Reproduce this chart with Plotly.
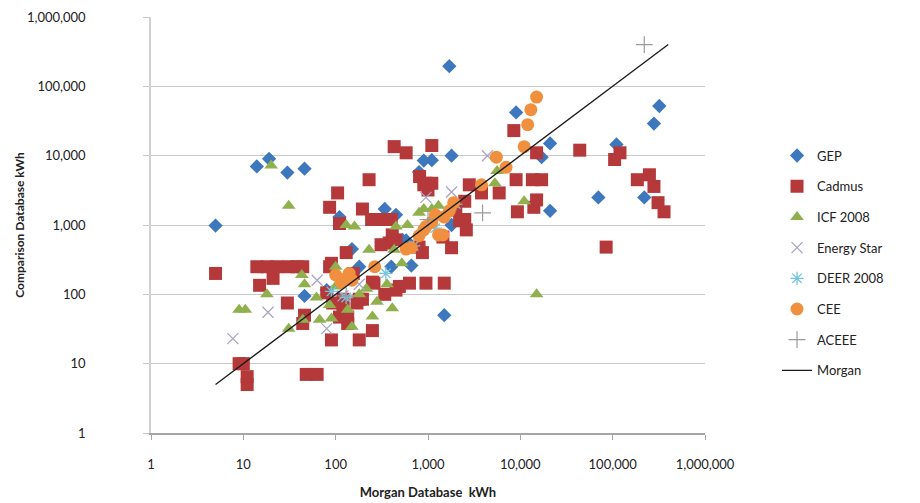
import plotly.graph_objects as go

# ---------------- data ----------------
gep_x = [5, 14, 19, 30, 46, 1700, 9000, 320000, 280000, 110000, 21000, 900, 1100, 1800,
         17000, 70000, 220000, 21000, 110, 340, 450, 800, 1500, 46, 150, 80, 580, 180,
         660, 400, 530, 1800]
gep_y = [980, 7000, 9000, 5700, 6500, 195000, 42000, 52000, 29000, 14500, 15000, 8500, 8600,
         10000, 9500, 2500, 2500, 1600, 1300, 1700, 1400, 5800, 50, 95, 450, 115, 600, 250,
         260, 250, 610, 1000]

cad_x = [5, 9, 10, 11, 11, 14, 18, 23, 21, 15, 30, 31, 38, 44, 46, 44, 48, 63, 86, 90, 90,
         93, 80, 120, 120, 130, 135, 135, 110, 180, 170, 195, 180, 250, 250, 155, 260, 340,
         450, 490, 380, 310, 450, 800, 630, 950, 1500, 1800, 2200, 870, 430, 580, 230, 105,
         86, 195, 245, 320, 400, 110, 410, 810, 900, 1100, 950, 1100, 1000, 8500, 2800, 3800,
         5900, 9000, 13500, 17000, 15000, 15000, 14000, 9300, 2500, 2500, 2000, 2600, 1450,
         44000, 105000, 120000, 185000, 250000, 280000, 310000, 360000, 85000]
cad_y = [200, 10, 10, 6.5, 5, 250, 250, 250, 170, 135, 75, 250, 250, 250, 50, 38, 7, 7, 250,
         280, 22, 75, 105, 85, 70, 400, 47, 38, 47, 85, 75, 85, 22, 30, 150, 200, 145, 100,
         115, 130, 550, 520, 610, 480, 145, 145, 145, 470, 1150, 400, 13500, 11000, 4500, 2900,
         1800, 1700, 1200, 1200, 1200, 1050, 720, 5000, 3800, 14000, 4000, 4000, 3200, 23000,
         3800, 2900, 2900, 4500, 4500, 4500, 11000, 2300, 1800, 1550, 2200, 1200, 1650, 850,
         670, 12000, 8800, 11000, 4500, 5300, 3600, 2100, 1550, 480]

icf_x = [9, 10.5, 18, 20, 31, 31, 43, 46, 44, 62, 67, 90, 86, 100, 135, 150, 250, 280, 410,
         215, 360, 230, 430, 520, 130, 160, 450, 600, 800, 900, 1100, 1300, 5600, 5300, 11000,
         15000, 100, 180]
icf_y = [60, 60, 100, 7200, 1900, 32, 190, 140, 43, 90, 43, 45, 70, 250, 60, 34, 48, 78, 63,
         120, 140, 440, 440, 280, 1000, 950, 950, 1000, 1500, 1700, 1700, 1900, 6000, 4000,
         2200, 100, 130, 100]

es_x = [7.7, 18.5, 63, 80, 180, 950, 1800, 4400, 120]
es_y = [23, 55, 160, 32, 140, 2500, 3000, 10000, 95]

deer_x = [90, 130, 350, 700, 1200, 2000]
deer_y = [110, 90, 200, 500, 900, 2000]

cee_x = [100, 115, 130, 150, 140, 265, 580, 660, 900, 950, 1100, 1300, 1450, 1500, 1700,
         1900, 3800, 5500, 7000, 11000, 12000, 13000, 15000, 800, 1200]
cee_y = [190, 150, 170, 160, 200, 250, 450, 470, 850, 950, 1100, 720, 720, 1300, 1600, 2100,
         3800, 9500, 6800, 13500, 28000, 46000, 70000, 700, 1400]

aceee_x = [220000, 3900, 130, 1000]
aceee_y = [400000, 1500, 95, 1200]

morgan_x = [5, 400000]
morgan_y = [5, 400000]

tick_vals = [1, 10, 100, 1000, 10000, 100000, 1000000]
tick_text = ["1", "10", "100", "1,000", "10,000", "100,000", "1,000,000"]

FONT = "Lato, 'Open Sans', sans-serif"

fig = go.Figure()

def add(name, x, y, symbol, color, size, line_w=0, line_color=None):
    fig.add_trace(go.Scatter(
        x=x, y=y, mode="markers", name=name, legendgroup=name,
        marker=dict(symbol=symbol, color=color, size=size,
                    line=dict(width=line_w, color=line_color or color)),
    ))

add("GEP", gep_x, gep_y, "diamond", "#3d77bd", 11)
add("Cadmus", cad_x, cad_y, "square", "#b5393a", 13)
add("ICF 2008", icf_x, icf_y, "triangle-up", "#8fb04d", 12)
add("Energy Star", es_x, es_y, "x-thin-open", "#aaa4c6", 11, 1.3)
add("DEER 2008", deer_x, deer_y, "asterisk-open", "#74c3df", 11, 1.3)
add("CEE", cee_x, cee_y, "circle", "#f0903e", 13)
add("ACEEE", aceee_x, aceee_y, "cross-thin-open", "#9a9a9a", 12, 1.2)

fig.add_trace(go.Scatter(x=morgan_x, y=morgan_y, mode="lines", name="Morgan",
                         legendgroup="Morgan",
                         line=dict(color="#1a1a1a", width=1.3)))

fig.update_layout(
    width=920, height=503,
    margin=dict(l=151, r=215, t=17, b=70, autoexpand=False),
    paper_bgcolor="white", plot_bgcolor="white",
    font=dict(family=FONT, size=13, color="#222222"),
    showlegend=True,
    legend=dict(x=1.13, y=0.703, xanchor="left", yanchor="top",
                font=dict(family=FONT, size=13, color="#222222"),
                tracegroupgap=10.8, bgcolor="rgba(0,0,0,0)"),
)

fig.update_xaxes(
    type="log", range=[0, 6], tickvals=tick_vals, ticktext=tick_text,
    automargin=False,
    showgrid=False, zeroline=False,
    showline=True, linecolor="#a6a6a6", linewidth=1.5,
    ticks="outside", ticklen=5, tickcolor="#a6a6a6", tickwidth=1,
    ticklabelstandoff=14,
    tickfont=dict(family=FONT, size=13, color="#222222"),
    title=dict(text="<b>Morgan Database  kWh</b>", standoff=17,
               font=dict(family=FONT, size=13, color="#222222")),
)

fig.update_yaxes(
    type="log", range=[0, 6], tickvals=tick_vals, ticktext=tick_text,
    automargin=False,
    showgrid=True, gridcolor="#c8c8c8", gridwidth=1, zeroline=False,
    showline=True, linecolor="#d0d0d0", linewidth=1.5,
    ticks="outside", ticklen=6, tickcolor="#c8c8c8",
    ticklabelstandoff=55,
    tickfont=dict(family=FONT, size=13, color="#222222"),
    title=dict(text="<b>Comparison Database kWh</b>", standoff=0,
               font=dict(family=FONT, size=12, color="#222222")),
)

fig.write_html("out.html", config={"displayModeBar": False},
               post_script="document.body.style.margin='0';document.body.style.overflow='hidden';")
